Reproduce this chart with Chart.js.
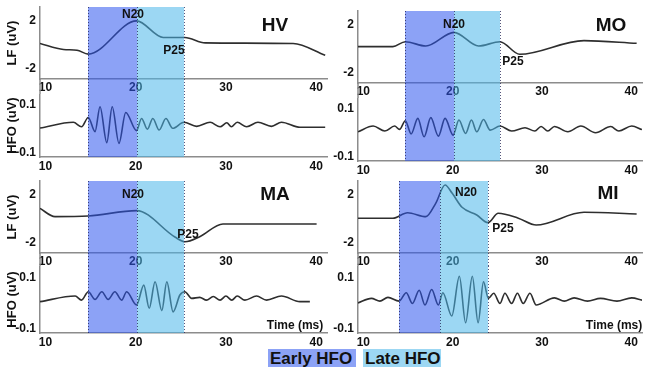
<!DOCTYPE html>
<html>
<head>
<meta charset="utf-8">
<script src="https://cdn.jsdelivr.net/npm/chart.js@4/dist/chart.umd.min.js"></script>
<style>
  body { margin: 0; background: #fff; }
  #fig { position: relative; width: 645px; height: 373px; overflow: hidden;
         font-family: "Liberation Sans", Arial, sans-serif; font-weight: bold; color: #111; }
  #fig canvas { position: absolute; z-index: 1; }
  .lbl { position: absolute; z-index: 2; transform: translate(-50%, -50%); white-space: nowrap; font-size: 12px; }
  .big { font-size: 19px; }
  .leg { position: absolute; top: 349px; height: 18px; line-height: 19px; font-size: 17px; padding-left: 2px; box-sizing: border-box; }
</style>
</head>
<body>
<div id="fig">
  <div class="lbl big" style="left:275px;top:25px">HV</div>
  <div class="lbl big" style="left:611px;top:25px">MO</div>
  <div class="lbl big" style="left:275px;top:194px">MA</div>
  <div class="lbl big" style="left:608px;top:193px">MI</div>

  <div class="lbl" style="left:133px;top:14px">N20</div>
  <div class="lbl" style="left:174px;top:50px">P25</div>
  <div class="lbl" style="left:454px;top:24px">N20</div>
  <div class="lbl" style="left:513px;top:61px">P25</div>
  <div class="lbl" style="left:133px;top:194px">N20</div>
  <div class="lbl" style="left:188px;top:234px">P25</div>
  <div class="lbl" style="left:466px;top:192px">N20</div>
  <div class="lbl" style="left:503px;top:228px">P25</div>

  <div class="lbl" style="left:295px;top:325px">Time (ms)</div>
  <div class="lbl" style="left:614px;top:325px">Time (ms)</div>

  <div class="leg" style="left:268px;width:88px;background:rgb(140,162,246)">Early HFO</div>
  <div class="leg" style="left:363px;width:78px;background:rgb(156,215,243)">Late HFO</div>
</div>
<script>
// ticks
const tempoTicks = [10, 20, 30, 40];
const lfTicks = [-2, 2];
const hfoTicks = [-0.1, 0.1];

// HV
const hvLfT = [9.4, 12.0, 13.5, 14.75, 20.1, 23.05, 25.45, 27.7, 37.45, 41.0];
const hvLfV = [0.06, -0.44, -0.5, -0.83, 1.94, 0.56, 0.56, 0.11, 0.06, -0.92];
const hvHfoT = [9.4, 13.1, 14.0, 14.75, 15.5, 16.05, 16.8, 17.4, 18.15, 18.9, 20.1, 20.65, 21.3, 21.9, 22.6,
  23.35, 24.1, 25.35, 26.75, 28.25, 29.35, 30.1, 30.6, 31.25, 32.3, 33.55, 35.05, 36.15, 38.2, 41.0];
const hvHfoV = [0.003, 0.027, 0.008, 0.047, -0.012, 0.092, -0.058, 0.092, -0.061, 0.068, -0.008, 0.043, -0.002, 0.043, -0.005,
  0.043, 0.002, 0.027, 0.01, 0.027, 0.008, 0.025, 0.008, 0.027, 0.008, 0.027, 0.01, 0.027, 0.006, 0.006];
const hvFaixas = [14.7, 20.1, 25.4];

// MO
const moLfT = [9.4, 13.3, 14.7, 17.0, 20.15, 22.9, 25.3, 27.5, 34.7, 40.6];
const moLfV = [0.13, 0.13, 0.54, 0.18, 1.32, 0.18, 0.54, -0.51, 0.63, 0.41];
const moHfoT = [9.4, 11.1, 12.4, 13.5, 14.05, 14.7, 15.35, 16.1, 16.8, 17.55, 18.4, 19.15, 20.05, 20.7, 21.45,
  22.1, 22.7, 23.45, 24.2, 25.3, 26.6, 28.1, 29.2, 29.9, 30.65, 31.4, 32.9, 34.35, 36.0, 37.7, 38.6, 40.05, 41.2];
const moHfoV = [0.004, 0.028, 0.007, 0.028, 0.014, 0.05, -0.005, 0.06, -0.017, 0.063, -0.014, 0.06, -0.01, 0.053, -0.003,
  0.053, 0.004, 0.055, 0.011, 0.028, 0.007, 0.021, 0.007, 0.026, 0.007, 0.026, 0.004, 0.028, 0.0, 0.026, 0.007, 0.028, 0.013];
const moFaixas = [14.7, 20.1, 25.3];

// MA
const maLfT = [9.4, 11.06, 14.75, 20.1, 24.35, 25.46, 27.1, 29.67, 40.05];
const maLfV = [0.82, 0.13, 0.18, 0.63, -1.57, -1.96, -1.54, -0.48, -0.48];
const maHfoT = [9.4, 13.3, 14.0, 14.75, 15.5, 16.25, 16.95, 17.7, 18.45, 19.0, 20.1, 20.9, 21.5, 22.15, 22.9,
  23.45, 24.15, 24.9, 25.45, 26.2, 27.1, 27.85, 28.6, 29.35, 30.0, 30.65, 31.25, 32.1, 33.4, 34.5, 36.15, 38.2, 39.3];
const maHfoV = [0.005, 0.027, 0.011, 0.044, 0.014, 0.044, 0.014, 0.044, 0.011, 0.044, -0.008, 0.07, -0.021, 0.083, -0.03,
  0.083, -0.035, 0.031, 0.044, 0.018, 0.022, 0.011, 0.025, 0.011, 0.027, 0.011, 0.027, 0.011, 0.027, 0.011, 0.027, 0.005, 0.005];
const maFaixas = [14.7, 20.1, 25.4];

// MI
const miLfT = [9.4, 13.3, 14.95, 17.0, 18.1, 19.15, 19.95, 21.05, 22.7, 23.95, 25.1, 27.35, 29.35, 34.7, 40.6];
const miLfV = [0.0, 0.0, 0.46, 0.13, 1.24, 2.77, 2.07, 0.91, 0.27, -0.37, 0.41, 0.0, -0.57, 0.49, 0.35];
const miHfoT = [9.4, 10.9, 11.85, 12.75, 14.0, 14.8, 15.5, 16.25, 16.9, 17.65, 18.4, 18.9, 19.9, 20.75, 21.45,
  22.2, 22.85, 23.45, 24.0, 24.6, 25.3, 25.85, 26.6, 27.25, 27.9, 28.65, 29.35, 31.4, 32.5, 33.6, 35.1, 36.55, 38.4, 40.05, 41.2];
const miHfoV = [0.0, 0.018, 0.007, 0.022, 0.007, 0.04, -0.002, 0.05, -0.008, 0.053, -0.008, 0.04, -0.051, 0.105, -0.078,
  0.105, -0.078, 0.083, 0.018, 0.038, -0.002, 0.038, -0.002, 0.038, -0.002, 0.038, -0.008, 0.02, 0.007, 0.02, 0.007, 0.018, 0.007, 0.02, 0.011];
const miFaixas = [14.0, 18.6, 24.0];

const corCedo = 'rgba(46, 86, 239, 0.55)';
const corTarde = 'rgba(75, 182, 233, 0.55)';
const corEixo = '#8c8c8c';

// faixas Early/Late por cima das curvas
const faixas = {
  id: 'faixas',
  beforeDatasetsDraw(chart, args, o) {
    if (!o.topo) return;
    // continua o eixo y do HFO entre os dois graficos
    const { ctx, chartArea } = chart;
    ctx.save();
    ctx.strokeStyle = corEixo;
    ctx.lineWidth = 1.5;
    ctx.beginPath();
    ctx.moveTo(chartArea.left, chartArea.bottom);
    ctx.lineTo(chartArea.left, chart.height);
    ctx.stroke();
    ctx.restore();
  },
  afterDatasetsDraw(chart, args, o) {
    const { ctx, chartArea, scales } = chart;
    const top = o.topo ? chartArea.top : 0;
    const bottom = o.topo ? chart.height : chartArea.bottom;
    const px = o.bordas.map(v => Math.round(scales.x.getPixelForValue(v)));
    ctx.save();
    ctx.fillStyle = corCedo;
    ctx.fillRect(px[0], top, px[1] - px[0], bottom - top);
    ctx.fillStyle = corTarde;
    ctx.fillRect(px[1], top, px[2] - px[1], bottom - top);
    ctx.strokeStyle = 'rgba(30, 30, 80, 0.75)';
    ctx.lineWidth = 1;
    ctx.setLineDash([1, 2]);
    px.forEach(p => {
      ctx.beginPath();
      ctx.moveTo(p + 0.5, top);
      ctx.lineTo(p + 0.5, bottom);
      ctx.stroke();
    });
    ctx.restore();
  }
};

function grafico(p) {
  const c = document.createElement('canvas');
  c.width = p.w;
  c.height = p.h;
  c.style.left = p.left + 'px';
  c.style.top = p.top + 'px';
  document.getElementById('fig').appendChild(c);

  const lf = p.tipo === 'lf';
  new Chart(c, {
    type: 'line',
    data: {
      datasets: [{
        data: p.t.map((t, i) => ({ x: t, y: p.v[i] })),
        borderColor: '#2e2e2e',
        borderWidth: 1.6,
        pointRadius: 0,
        cubicInterpolationMode: 'monotone',
        fill: false
      }]
    },
    options: {
      responsive: false,
      animation: false,
      events: [],
      layout: { padding: { top: p.padTop, right: 3, left: 0, bottom: 0 } },
      plugins: {
        legend: { display: false },
        tooltip: { enabled: false },
        faixas: { bordas: p.faixas, topo: lf }
      },
      scales: {
        x: {
          type: 'linear',
          min: 9.4,
          max: 41.2,
          grid: { display: false, drawTicks: false },
          border: { color: corEixo, width: 1.5 },
          ticks: { padding: p.xPad, color: '#111', font: { size: 12, weight: 'bold' }, maxRotation: 0, autoSkip: false },
          afterBuildTicks: s => { s.ticks = tempoTicks.map(v => ({ value: v })); },
          afterFit: s => { s.height = p.xAlt; s.paddingLeft = 0; s.paddingRight = 0; }
        },
        y: {
          min: lf ? -2.9 : -0.118,
          max: lf ? 3.1 : 0.145,
          grid: { display: false, drawTicks: false },
          border: { color: corEixo, width: 1.5 },
          ticks: { padding: 4, color: '#111', font: { size: 12, weight: 'bold' }, callback: v => String(v) },
          afterBuildTicks: s => { s.ticks = (lf ? lfTicks : hfoTicks).map(v => ({ value: v })); },
          afterFit: s => { s.width = p.yLarg; s.paddingTop = 0; s.paddingBottom = 0; },
          title: {
            display: p.left === 0,
            text: lf ? 'LF (uV)' : 'HFO (uV)',
            color: '#111',
            font: { size: 13, weight: 'bold' },
            padding: { top: 5, bottom: 0 }
          }
        }
      }
    },
    plugins: [faixas]
  });
}

Chart.defaults.font.family = '"Liberation Sans", Arial, sans-serif';

// linha de cima
grafico({ tipo: 'lf', t: hvLfT, v: hvLfV, faixas: hvFaixas, left: 0, top: 0, w: 330, h: 94, padTop: 7, xAlt: 15, xPad: 1, yLarg: 40 });
grafico({ tipo: 'hfo', t: hvHfoT, v: hvHfoV, faixas: hvFaixas, left: 0, top: 94, w: 330, h: 78, padTop: 0, xAlt: 15, xPad: 2, yLarg: 40 });
grafico({ tipo: 'lf', t: moLfT, v: moLfV, faixas: moFaixas, left: 320, top: 4, w: 325, h: 94, padTop: 7, xAlt: 15, xPad: 1, yLarg: 38 });
grafico({ tipo: 'hfo', t: moHfoT, v: moHfoV, faixas: moFaixas, left: 320, top: 98, w: 325, h: 78, padTop: 0, xAlt: 15, xPad: 2, yLarg: 38 });

// linha de baixo
grafico({ tipo: 'lf', t: maLfT, v: maLfV, faixas: maFaixas, left: 0, top: 172, w: 330, h: 94, padTop: 9, xAlt: 13, xPad: 1, yLarg: 40 });
grafico({ tipo: 'hfo', t: maHfoT, v: maHfoV, faixas: maFaixas, left: 0, top: 266, w: 330, h: 84, padTop: 0, xAlt: 17, xPad: 2, yLarg: 40 });
grafico({ tipo: 'lf', t: miLfT, v: miLfV, faixas: miFaixas, left: 320, top: 172, w: 325, h: 94, padTop: 9, xAlt: 13, xPad: 1, yLarg: 38 });
grafico({ tipo: 'hfo', t: miHfoT, v: miHfoV, faixas: miFaixas, left: 320, top: 266, w: 325, h: 84, padTop: 0, xAlt: 17, xPad: 2, yLarg: 38 });
</script>
</body>
</html>
